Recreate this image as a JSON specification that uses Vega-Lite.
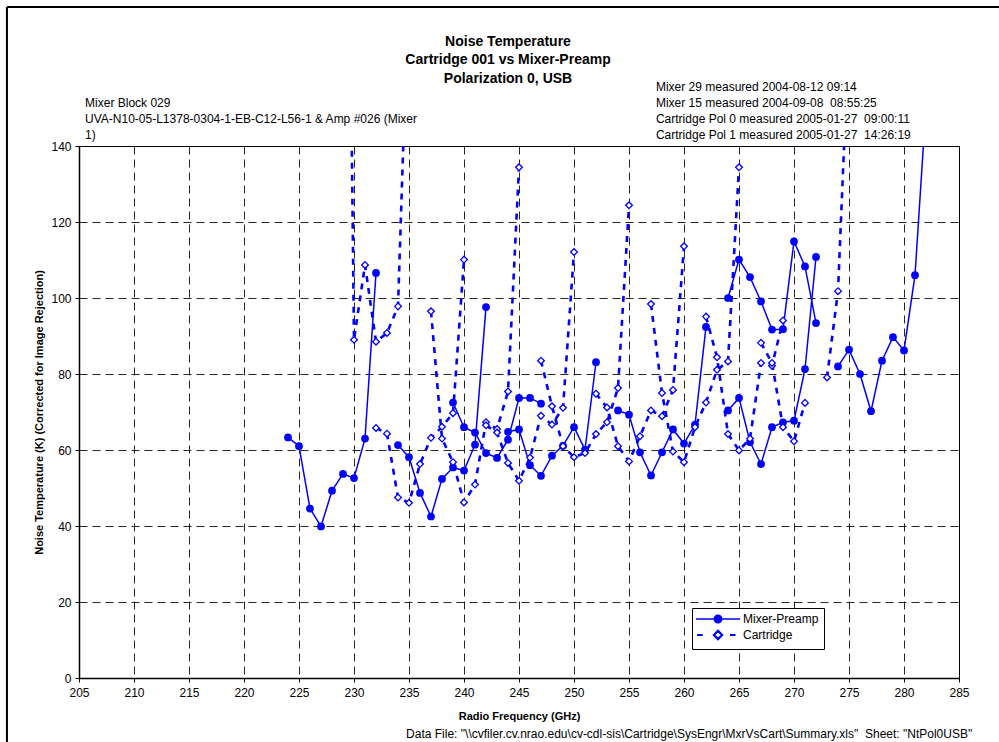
{
  "$schema": "https://vega.github.io/schema/vega-lite/v6.json",
  "width": 880,
  "height": 532,
  "autosize": "none",
  "padding": {"left": 79, "top": 146, "right": 40, "bottom": 64},
  "background": "#ffffff",
  "config": {
    "view": {"stroke": "#000000", "strokeWidth": 1, "fill": "#ffffff"},
    "font": "Liberation Sans",
    "axis": {
      "labelFont": "Liberation Sans", "labelFontSize": 12, "labelColor": "#000000",
      "titleFont": "Liberation Sans", "titleFontSize": 11, "titleFontWeight": "bold", "titleColor": "#000000",
      "domainColor": "#000000", "domainWidth": 1.5, "tickColor": "#000000", "tickSize": 4,
      "grid": true, "gridColor": "#000000", "gridDash": [8, 5], "gridWidth": 1, "gridOpacity": 0.85
    }
  },
  "datasets": {
    "curves": [
      {"s":"Mixer-Preamp","r":"M1","f":224,"t":63.3},{"s":"Mixer-Preamp","r":"M1","f":225,"t":61.0},{"s":"Mixer-Preamp","r":"M1","f":226,"t":44.6},{"s":"Mixer-Preamp","r":"M1","f":227,"t":39.9},{"s":"Mixer-Preamp","r":"M1","f":228,"t":49.3},{"s":"Mixer-Preamp","r":"M1","f":229,"t":53.7},{"s":"Mixer-Preamp","r":"M1","f":230,"t":52.6},{"s":"Mixer-Preamp","r":"M1","f":231,"t":63.0},{"s":"Mixer-Preamp","r":"M1","f":232,"t":106.6},
      {"s":"Mixer-Preamp","r":"M2","f":234,"t":61.3},{"s":"Mixer-Preamp","r":"M2","f":235,"t":58.1},{"s":"Mixer-Preamp","r":"M2","f":236,"t":48.7},{"s":"Mixer-Preamp","r":"M2","f":237,"t":42.5},{"s":"Mixer-Preamp","r":"M2","f":238,"t":52.4},{"s":"Mixer-Preamp","r":"M2","f":239,"t":55.4},{"s":"Mixer-Preamp","r":"M2","f":240,"t":54.6},{"s":"Mixer-Preamp","r":"M2","f":241,"t":61.4},{"s":"Mixer-Preamp","r":"M2","f":242,"t":97.6},
      {"s":"Mixer-Preamp","r":"M3","f":239,"t":72.5},{"s":"Mixer-Preamp","r":"M3","f":240,"t":66.0},{"s":"Mixer-Preamp","r":"M3","f":241,"t":64.6},{"s":"Mixer-Preamp","r":"M3","f":242,"t":59.2},{"s":"Mixer-Preamp","r":"M3","f":243,"t":57.9},{"s":"Mixer-Preamp","r":"M3","f":244,"t":62.7},{"s":"Mixer-Preamp","r":"M3","f":245,"t":73.7},{"s":"Mixer-Preamp","r":"M3","f":246,"t":73.7},{"s":"Mixer-Preamp","r":"M3","f":247,"t":72.2},
      {"s":"Mixer-Preamp","r":"M4","f":244,"t":64.8},{"s":"Mixer-Preamp","r":"M4","f":245,"t":65.4},{"s":"Mixer-Preamp","r":"M4","f":246,"t":56.0},{"s":"Mixer-Preamp","r":"M4","f":247,"t":53.2},{"s":"Mixer-Preamp","r":"M4","f":248,"t":58.5},{"s":"Mixer-Preamp","r":"M4","f":249,"t":61.1},{"s":"Mixer-Preamp","r":"M4","f":250,"t":66.0},{"s":"Mixer-Preamp","r":"M4","f":251,"t":60.1},{"s":"Mixer-Preamp","r":"M4","f":252,"t":83.1},
      {"s":"Mixer-Preamp","r":"M5","f":254,"t":70.4},{"s":"Mixer-Preamp","r":"M5","f":255,"t":69.3},{"s":"Mixer-Preamp","r":"M5","f":256,"t":59.4},{"s":"Mixer-Preamp","r":"M5","f":257,"t":53.3},{"s":"Mixer-Preamp","r":"M5","f":258,"t":59.4},{"s":"Mixer-Preamp","r":"M5","f":259,"t":65.4},{"s":"Mixer-Preamp","r":"M5","f":260,"t":61.7},{"s":"Mixer-Preamp","r":"M5","f":261,"t":66.7},{"s":"Mixer-Preamp","r":"M5","f":262,"t":92.4},
      {"s":"Mixer-Preamp","r":"M6","f":264,"t":70.4},{"s":"Mixer-Preamp","r":"M6","f":265,"t":73.7},{"s":"Mixer-Preamp","r":"M6","f":266,"t":62.1},{"s":"Mixer-Preamp","r":"M6","f":267,"t":56.3},{"s":"Mixer-Preamp","r":"M6","f":268,"t":66.0},{"s":"Mixer-Preamp","r":"M6","f":269,"t":67.3},{"s":"Mixer-Preamp","r":"M6","f":270,"t":67.7},{"s":"Mixer-Preamp","r":"M6","f":271,"t":81.3},{"s":"Mixer-Preamp","r":"M6","f":272,"t":110.8},
      {"s":"Mixer-Preamp","r":"M7","f":264,"t":100.0},{"s":"Mixer-Preamp","r":"M7","f":265,"t":110.1},{"s":"Mixer-Preamp","r":"M7","f":266,"t":105.5},{"s":"Mixer-Preamp","r":"M7","f":267,"t":99.1},{"s":"Mixer-Preamp","r":"M7","f":268,"t":91.7},{"s":"Mixer-Preamp","r":"M7","f":269,"t":91.8},{"s":"Mixer-Preamp","r":"M7","f":270,"t":114.9},{"s":"Mixer-Preamp","r":"M7","f":271,"t":108.3},{"s":"Mixer-Preamp","r":"M7","f":272,"t":93.4},
      {"s":"Mixer-Preamp","r":"M8","f":274,"t":82.0},{"s":"Mixer-Preamp","r":"M8","f":275,"t":86.4},{"s":"Mixer-Preamp","r":"M8","f":276,"t":80.0},{"s":"Mixer-Preamp","r":"M8","f":277,"t":70.2},{"s":"Mixer-Preamp","r":"M8","f":278,"t":83.5},{"s":"Mixer-Preamp","r":"M8","f":279,"t":89.7},{"s":"Mixer-Preamp","r":"M8","f":280,"t":86.2},{"s":"Mixer-Preamp","r":"M8","f":281,"t":106.0},{"s":"Mixer-Preamp","r":"M8","f":282,"t":150.7},
      {"s":"Cartridge","r":"C1","f":229,"t":344},{"s":"Cartridge","r":"C1","f":230,"t":89.0},{"s":"Cartridge","r":"C1","f":231,"t":108.7},{"s":"Cartridge","r":"C1","f":232,"t":88.5},{"s":"Cartridge","r":"C1","f":233,"t":90.8},{"s":"Cartridge","r":"C1","f":234,"t":97.8},{"s":"Cartridge","r":"C1","f":235,"t":186},
      {"s":"Cartridge","r":"C2","f":232,"t":65.8},{"s":"Cartridge","r":"C2","f":233,"t":64.3},{"s":"Cartridge","r":"C2","f":234,"t":47.5},{"s":"Cartridge","r":"C2","f":235,"t":46.1},{"s":"Cartridge","r":"C2","f":236,"t":56.3},{"s":"Cartridge","r":"C2","f":237,"t":63.2},{"s":"Cartridge","r":"C2","f":238,"t":66.1},{"s":"Cartridge","r":"C2","f":239,"t":69.7},{"s":"Cartridge","r":"C2","f":240,"t":110.1},
      {"s":"Cartridge","r":"C3","f":237,"t":96.5},{"s":"Cartridge","r":"C3","f":238,"t":63.0},{"s":"Cartridge","r":"C3","f":239,"t":56.8},{"s":"Cartridge","r":"C3","f":240,"t":46.2},{"s":"Cartridge","r":"C3","f":241,"t":50.9},{"s":"Cartridge","r":"C3","f":242,"t":67.3},{"s":"Cartridge","r":"C3","f":243,"t":65.5},{"s":"Cartridge","r":"C3","f":244,"t":75.4},{"s":"Cartridge","r":"C3","f":245,"t":134.4},
      {"s":"Cartridge","r":"C4","f":242,"t":66.5},{"s":"Cartridge","r":"C4","f":243,"t":64.6},{"s":"Cartridge","r":"C4","f":244,"t":56.6},{"s":"Cartridge","r":"C4","f":245,"t":51.9},{"s":"Cartridge","r":"C4","f":246,"t":58.0},{"s":"Cartridge","r":"C4","f":247,"t":69.0},{"s":"Cartridge","r":"C4","f":248,"t":66.7},{"s":"Cartridge","r":"C4","f":249,"t":71.1},{"s":"Cartridge","r":"C4","f":250,"t":112.1},
      {"s":"Cartridge","r":"C5","f":247,"t":83.5},{"s":"Cartridge","r":"C5","f":248,"t":71.5},{"s":"Cartridge","r":"C5","f":249,"t":61.0},{"s":"Cartridge","r":"C5","f":250,"t":58.1},{"s":"Cartridge","r":"C5","f":251,"t":59.2},{"s":"Cartridge","r":"C5","f":252,"t":64.2},{"s":"Cartridge","r":"C5","f":253,"t":67.3},{"s":"Cartridge","r":"C5","f":254,"t":76.3},{"s":"Cartridge","r":"C5","f":255,"t":124.4},
      {"s":"Cartridge","r":"C6","f":252,"t":74.8},{"s":"Cartridge","r":"C6","f":253,"t":71.2},{"s":"Cartridge","r":"C6","f":254,"t":61.0},{"s":"Cartridge","r":"C6","f":255,"t":57.0},{"s":"Cartridge","r":"C6","f":256,"t":63.6},{"s":"Cartridge","r":"C6","f":257,"t":70.4},{"s":"Cartridge","r":"C6","f":258,"t":68.9},{"s":"Cartridge","r":"C6","f":259,"t":75.8},{"s":"Cartridge","r":"C6","f":260,"t":113.6},
      {"s":"Cartridge","r":"C7","f":257,"t":98.4},{"s":"Cartridge","r":"C7","f":258,"t":75.0},{"s":"Cartridge","r":"C7","f":259,"t":59.6},{"s":"Cartridge","r":"C7","f":260,"t":56.8},{"s":"Cartridge","r":"C7","f":261,"t":66.0},{"s":"Cartridge","r":"C7","f":262,"t":72.5},{"s":"Cartridge","r":"C7","f":263,"t":81.1},{"s":"Cartridge","r":"C7","f":264,"t":83.3},{"s":"Cartridge","r":"C7","f":265,"t":134.4},
      {"s":"Cartridge","r":"C8","f":262,"t":95.1},{"s":"Cartridge","r":"C8","f":263,"t":84.4},{"s":"Cartridge","r":"C8","f":264,"t":64.2},{"s":"Cartridge","r":"C8","f":265,"t":59.9},{"s":"Cartridge","r":"C8","f":266,"t":63.0},{"s":"Cartridge","r":"C8","f":267,"t":82.9},{"s":"Cartridge","r":"C8","f":268,"t":82.2},{"s":"Cartridge","r":"C8","f":269,"t":94.1},
      {"s":"Cartridge","r":"C9","f":267,"t":88.2},{"s":"Cartridge","r":"C9","f":268,"t":82.9},{"s":"Cartridge","r":"C9","f":269,"t":66.0},{"s":"Cartridge","r":"C9","f":270,"t":62.3},{"s":"Cartridge","r":"C9","f":271,"t":72.4},
      {"s":"Cartridge","r":"C10","f":273,"t":79.1},{"s":"Cartridge","r":"C10","f":274,"t":101.8},{"s":"Cartridge","r":"C10","f":275,"t":171}
    ],
    "blank": [{}]
  },
  "layer": [
    {
      "data": {"name": "curves"},
      "transform": [{"filter": "datum.s === 'Mixer-Preamp'"}],
      "mark": {"type": "line", "clip": true, "strokeWidth": 1.5},
      "encoding": {
        "x": {"field": "f", "type": "quantitative",
          "scale": {"domain": [205, 285], "nice": false, "zero": false},
          "axis": {"values": [205,210,215,220,225,230,235,240,245,250,255,260,265,270,275,280,285], "title": "Radio Frequency (GHz)", "labelPadding": 5, "titlePadding": 12, "labelFlush": false}},
        "y": {"field": "t", "type": "quantitative",
          "scale": {"domain": [0, 140], "nice": false, "zero": true},
          "axis": {"values": [0,20,40,60,80,100,120,140], "title": "Noise Temperature (K) (Corrected for Image Rejection)", "labelPadding": 4, "titlePadding": 6, "labelFlush": false}},
        "detail": {"field": "r", "type": "nominal"},
        "color": {"field": "s", "type": "nominal",
          "scale": {"domain": ["Mixer-Preamp", "Cartridge"], "range": ["#0000ff", "#0000ff"]},
          "legend": {
            "orient": "none", "legendX": 613, "legendY": 462, "title": null,
            "padding": 5, "strokeColor": "#000000", "fillColor": "#ffffff",
            "labelFont": "Liberation Sans", "labelFontSize": 12, "labelColor": "#000000",
            "symbolSize": 56, "symbolOffset": 15, "labelOffset": 19, "rowPadding": 0,
            "encode": {"symbols": {"update": {
              "shape": {"signal": "datum.value === 'Mixer-Preamp' ? 'M-5.9,0H5.9M-1,0A1,1,0,1,1,1,0A1,1,0,1,1,-1,0Z' : 'M-5.6,0H-4.1M3.2,0H4.7M0,-1.1L1.1,0L0,1.1L-1.1,0Z'"},
              "fill": {"signal": "datum.value === 'Mixer-Preamp' ? '#0000ff' : '#ffffff'"},
              "stroke": {"value": "#0000ff"},
              "strokeWidth": {"signal": "datum.value === 'Mixer-Preamp' ? 1.5 : 2.2"},
              "opacity": {"value": 1},
              "fillOpacity": {"value": 1}
            }}}
          }}
      }
    },
    {
      "data": {"name": "curves"},
      "transform": [{"filter": "datum.s === 'Mixer-Preamp'"}],
      "mark": {"type": "point", "shape": "circle", "filled": true, "clip": true, "size": 60, "fill": "#0000ff", "opacity": 1},
      "encoding": {
        "x": {"field": "f", "type": "quantitative"},
        "y": {"field": "t", "type": "quantitative"}
      }
    },
    {
      "data": {"name": "curves"},
      "transform": [{"filter": "datum.s === 'Cartridge'"}],
      "mark": {"type": "line", "clip": true, "strokeWidth": 2.6, "strokeDash": [6, 6]},
      "encoding": {
        "x": {"field": "f", "type": "quantitative"},
        "y": {"field": "t", "type": "quantitative"},
        "detail": {"field": "r", "type": "nominal"},
        "color": {"field": "s", "type": "nominal"}
      }
    },
    {
      "data": {"name": "curves"},
      "transform": [{"filter": "datum.s === 'Cartridge'"}],
      "mark": {"type": "point", "shape": "diamond", "filled": true, "clip": true, "size": 45, "fill": "#ffffff", "stroke": "#0000ff", "strokeWidth": 1.3, "opacity": 1},
      "encoding": {
        "x": {"field": "f", "type": "quantitative"},
        "y": {"field": "t", "type": "quantitative"}
      }
    },
    {
      "data": {"name": "blank"},
      "mark": {"type": "text", "text": ["Noise Temperature", "Cartridge 001 vs Mixer-Preamp", "Polarization 0, USB"], "font": "Liberation Sans", "fontSize": 14, "fontWeight": "bold", "lineHeight": 18.5, "align": "center", "baseline": "middle", "color": "#000000"},
      "encoding": {"x": {"datum": 244.0, "type": "quantitative"}, "y": {"datum": 167.4, "type": "quantitative"}}
    },
    {
      "data": {"name": "blank"},
      "mark": {"type": "text", "text": ["Mixer Block 029", "UVA-N10-05-L1378-0304-1-EB-C12-L56-1 & Amp #026 (Mixer", "1)"], "font": "Liberation Sans", "fontSize": 12, "lineHeight": 16, "align": "left", "baseline": "middle", "color": "#000000"},
      "encoding": {"x": {"datum": 205.55, "type": "quantitative"}, "y": {"datum": 151.3, "type": "quantitative"}}
    },
    {
      "data": {"name": "blank"},
      "mark": {"type": "text", "text": ["Mixer 29 measured 2004-08-12 09:14", "Mixer 15 measured 2004-09-08 \u00a008:55:25", "Cartridge Pol 0 measured 2005-01-27 \u00a009:00:11", "Cartridge Pol 1 measured 2005-01-27 \u00a014:26:19"], "font": "Liberation Sans", "fontSize": 12, "lineHeight": 16, "align": "left", "baseline": "middle", "color": "#000000"},
      "encoding": {"x": {"datum": 257.45, "type": "quantitative"}, "y": {"datum": 155.5, "type": "quantitative"}}
    },
    {
      "data": {"name": "blank"},
      "mark": {"type": "text", "text": "Data File: \"\\\\cvfiler.cv.nrao.edu\\cv-cdl-sis\\Cartridge\\SysEngr\\MxrVsCart\\Summary.xls\" \u00a0Sheet: \"NtPol0USB\"", "font": "Liberation Sans", "fontSize": 12, "align": "right", "baseline": "middle", "color": "#000000"},
      "encoding": {"x": {"datum": 286.2, "type": "quantitative"}, "y": {"datum": -14.7, "type": "quantitative"}}
    },
    {
      "data": {"name": "blank"},
      "mark": {"type": "rule", "color": "#000000", "strokeWidth": 2, "clip": false},
      "encoding": {"x": {"datum": 198.45, "type": "quantitative"}, "y": {"datum": 176.6, "type": "quantitative"}, "y2": {"datum": -17.5}}
    },
    {
      "data": {"name": "blank"},
      "mark": {"type": "rule", "color": "#000000", "strokeWidth": 2, "clip": false},
      "encoding": {"x": {"datum": 198.45, "type": "quantitative"}, "x2": {"datum": 290}, "y": {"datum": 176.6, "type": "quantitative"}}
    }
  ]
}
